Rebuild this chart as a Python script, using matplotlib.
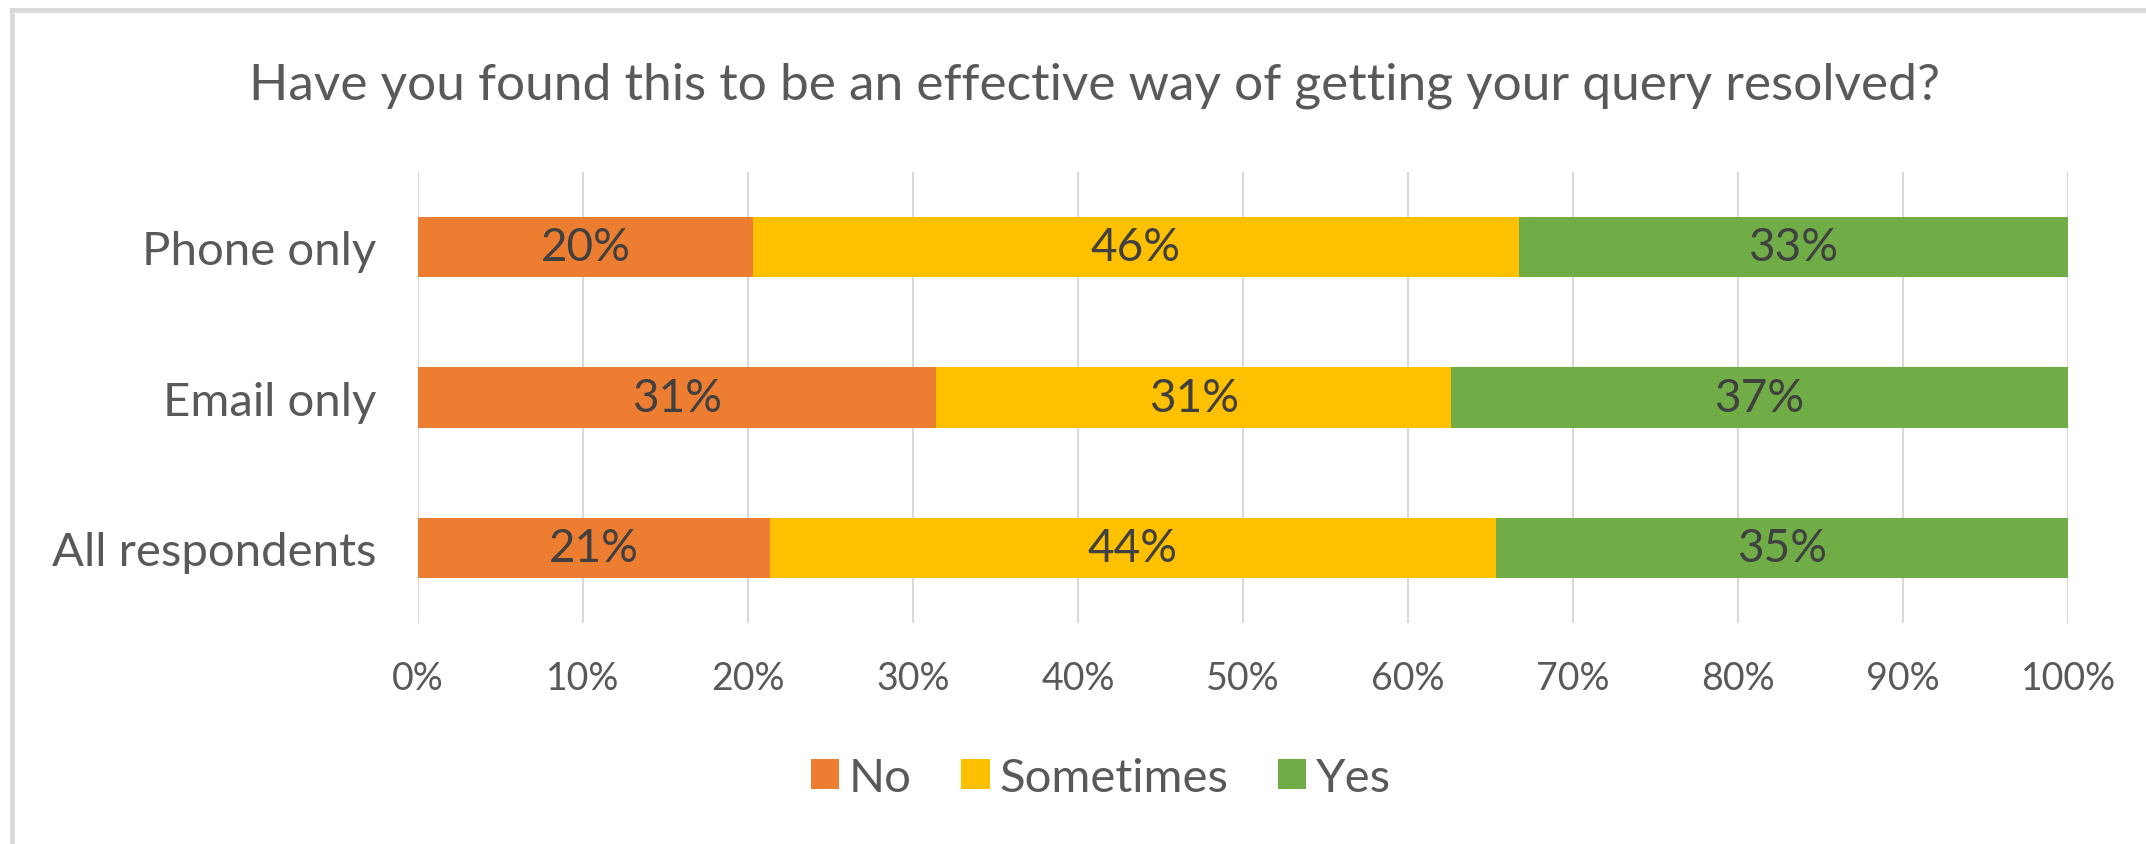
import matplotlib.pyplot as plt
import numpy as np
from matplotlib.lines import Line2D

# survey results (percent of respondents)
groups = ['Phone only', 'Email only', 'All respondents']
answers = ['No', 'Sometimes', 'Yes']
no_vals = [20.3, 31.4, 21.3]
sometimes_vals = [46.4, 31.2, 44.0]
yes_vals = [33.3, 37.4, 34.7]
x_ticks = [0, 10, 20, 30, 40, 50, 60, 70, 80, 90, 100]

colors = ['#ED7D31', '#FFC000', '#70AD47']
text_grey = '#595959'
label_grey = '#404040'

plt.rcParams['font.family'] = ['Lato', 'DejaVu Sans']

fig = plt.figure(figsize=(21.46, 8.45), dpi=100)
ax = fig.add_axes([0.1948, 0.2621, 0.9637 - 0.1948, 0.7947 - 0.2621])

y = np.arange(len(groups))[::-1]
left = np.zeros(len(groups))
for name, vals, c in zip(answers, [no_vals, sometimes_vals, yes_vals], colors):
    vals = np.array(vals)
    bars = ax.barh(y, vals, left=left, height=0.4, color=c, label=name, zorder=3)
    for b, v in zip(bars, vals):
        ax.text(b.get_x() + b.get_width() / 2, b.get_y() + b.get_height() / 2,
                f'{v:.0f}%', ha='center', va='center', fontsize=33,
                color=label_grey, zorder=4)
    left += vals

ax.set_xlim(0, 100)
ax.set_ylim(-0.5, len(groups) - 0.5)
ax.set_xticks(x_ticks)
ax.set_xticklabels([f'{t}%' for t in x_ticks])
ax.set_yticks(y)
ax.set_yticklabels(groups)
ax.tick_params(axis='x', length=0, labelsize=27, colors=text_grey, pad=27)
ax.tick_params(axis='y', length=0, labelsize=34, colors=text_grey, pad=30)
ax.grid(axis='x', color='#D9D9D9', linewidth=1.5, zorder=0)
for s in ax.spines.values():
    s.set_visible(False)

fig.suptitle('Have you found this to be an effective way of getting your query resolved?',
             x=0.51, y=0.899, va='center', fontsize=37, color=text_grey)

leg = fig.legend(loc='center', bbox_to_anchor=(0.513, 0.078), ncol=3, frameon=False,
                 fontsize=34, handlelength=0.6, handleheight=0.6,
                 handletextpad=0.2, columnspacing=1.05)
for t in leg.get_texts():
    t.set_color(text_grey)

# light frame along the top and left edges
fig.add_artist(Line2D([0.0054, 0.0054], [0, 0.9864], transform=fig.transFigure,
                      color='#D9D9D9', linewidth=3.5))
fig.add_artist(Line2D([0.0054, 1], [0.9864, 0.9864], transform=fig.transFigure,
                      color='#D9D9D9', linewidth=3.5))

fig.savefig('out.png', dpi=100, facecolor='white')
